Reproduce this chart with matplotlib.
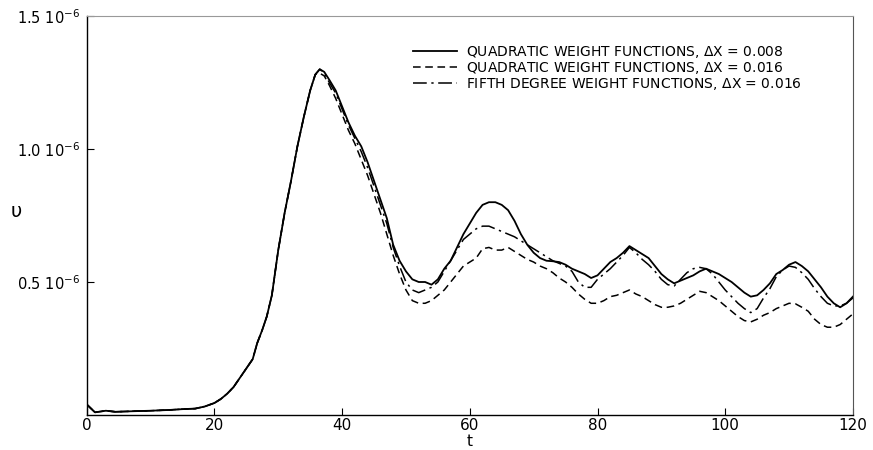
import numpy as np
import matplotlib
matplotlib.use("Agg")
import matplotlib.pyplot as plt

# values in units of 1e-6
t_rise = [0, 1.3, 3, 4.5, 7, 10, 13, 15, 17, 18.5, 20, 21, 22, 23, 24, 25, 26,
          26.7, 27.5, 28.2, 29, 30, 31, 32, 33, 34, 35, 35.8, 36.5, 37.2]
v_rise = [0.04, 0.01, 0.016, 0.012, 0.014, 0.016, 0.019, 0.022, 0.024, 0.032,
          0.045, 0.06, 0.08, 0.105, 0.14, 0.175, 0.21, 0.27, 0.32, 0.37, 0.45,
          0.62, 0.76, 0.88, 1.01, 1.12, 1.22, 1.28, 1.30, 1.29]

t_fall = [38, 39, 40, 41, 42, 43, 44, 45, 46, 47, 48, 49, 50, 51, 52, 53, 54,
          55, 56, 57, 58, 59, 60, 61, 62, 63, 64, 65, 66, 67, 68, 69, 70, 71,
          72, 73, 74, 75, 76, 77, 78, 79, 80, 81, 82, 83, 84, 85, 86, 87, 88,
          89, 90, 91, 92, 93, 94, 95, 96, 97, 98, 99, 100, 101, 102, 103, 104,
          105, 106, 107, 108, 109, 110, 111, 112, 113, 114, 115, 116, 117, 118,
          119, 120]

quad_008 = [1.26, 1.22, 1.16, 1.10, 1.05, 1.01, 0.95, 0.88, 0.81, 0.74, 0.64,
            0.58, 0.54, 0.51, 0.50, 0.50, 0.49, 0.51, 0.55, 0.58, 0.63, 0.68,
            0.72, 0.76, 0.79, 0.80, 0.80, 0.79, 0.77, 0.73, 0.68, 0.64, 0.61,
            0.59, 0.58, 0.578, 0.575, 0.565, 0.55, 0.54, 0.53, 0.515, 0.525,
            0.55, 0.575, 0.59, 0.61, 0.635, 0.62, 0.605, 0.59, 0.56, 0.53,
            0.51, 0.495, 0.505, 0.515, 0.525, 0.54, 0.55, 0.54, 0.53, 0.515,
            0.50, 0.48, 0.46, 0.445, 0.45, 0.47, 0.495, 0.53, 0.545, 0.565,
            0.575, 0.56, 0.54, 0.51, 0.48, 0.445, 0.42, 0.405, 0.42, 0.445]

quad_016 = [1.24, 1.19, 1.13, 1.07, 1.02, 0.96, 0.90, 0.83, 0.76, 0.68, 0.60,
            0.53, 0.47, 0.43, 0.42, 0.42, 0.43, 0.45, 0.47, 0.50, 0.53, 0.56,
            0.575, 0.59, 0.625, 0.63, 0.62, 0.62, 0.63, 0.615, 0.60, 0.585,
            0.575, 0.56, 0.55, 0.535, 0.515, 0.50, 0.48, 0.455, 0.435, 0.42,
            0.42, 0.43, 0.445, 0.45, 0.46, 0.47, 0.455, 0.445, 0.43, 0.415,
            0.405, 0.405, 0.41, 0.42, 0.435, 0.45, 0.465, 0.46, 0.445, 0.43,
            0.41, 0.39, 0.37, 0.355, 0.35, 0.36, 0.375, 0.385, 0.40, 0.41,
            0.42, 0.418, 0.405, 0.39, 0.36, 0.34, 0.33, 0.33, 0.34, 0.36, 0.38]

fifth_016 = [1.25, 1.21, 1.15, 1.09, 1.04, 0.99, 0.93, 0.86, 0.79, 0.72, 0.63,
             0.56, 0.50, 0.47, 0.46, 0.47, 0.48, 0.50, 0.54, 0.58, 0.62, 0.66,
             0.68, 0.70, 0.71, 0.71, 0.70, 0.69, 0.68, 0.67, 0.655, 0.64, 0.625,
             0.61, 0.595, 0.58, 0.57, 0.56, 0.54, 0.50, 0.48, 0.48, 0.51, 0.53,
             0.55, 0.575, 0.60, 0.63, 0.61, 0.585, 0.565, 0.54, 0.51, 0.49,
             0.485, 0.51, 0.535, 0.55, 0.555, 0.55, 0.53, 0.50, 0.47, 0.445,
             0.42, 0.40, 0.385, 0.40, 0.44, 0.475, 0.52, 0.545, 0.56, 0.555,
             0.535, 0.51, 0.475, 0.445, 0.42, 0.41, 0.41, 0.42, 0.44]

labels = ["QUADRATIC WEIGHT FUNCTIONS, $\\Delta$X = 0.008",
          "QUADRATIC WEIGHT FUNCTIONS, $\\Delta$X = 0.016",
          "FIFTH DEGREE WEIGHT FUNCTIONS, $\\Delta$X = 0.016"]
ytick_vals = [0.5, 1.0, 1.5]
ytick_labels = ["0.5 10$^{-6}$", "1.0 10$^{-6}$", "1.5 10$^{-6}$"]
xtick_vals = [0, 20, 40, 60, 80, 100, 120]

plt.rcParams['font.family'] = ['DejaVu Sans']
plt.rcParams['mathtext.fontset'] = 'dejavusans'

fig = plt.figure(figsize=(8.73, 4.5), dpi=100)
ax = fig.add_axes([0.0993, 0.0778, 0.8777, 0.8866])

t = np.array(t_rise + t_fall)
ax.plot(t, np.array(v_rise + quad_008), color='black', lw=1.3,
        linestyle='-', label=labels[0])
ax.plot(t, np.array(v_rise[:-2] + [1.285, 1.275] + quad_016), color='black',
        lw=1.1, linestyle=(0, (5, 3)), label=labels[1])
ax.plot(t, np.array(v_rise[:-1] + [1.285] + fifth_016), color='black',
        lw=1.1, linestyle=(0, (9, 3, 1.5, 3)), label=labels[2])

ax.set_xlim(0, 120)
ax.set_ylim(0, 1.5)
ax.set_xticks(xtick_vals)
ax.set_yticks(ytick_vals)
ax.set_yticklabels(ytick_labels)
ax.tick_params(direction='in', length=5, width=0.8, pad=5)
ax.tick_params(axis='y', labelsize=10.5)
ax.tick_params(axis='x', labelsize=11, pad=2)

for side in ['left', 'bottom']:
    ax.spines[side].set_linewidth(1.0)
ax.spines['top'].set_color('#999999')
ax.spines['top'].set_linewidth(0.8)
ax.spines['right'].set_color('#555555')
ax.spines['right'].set_linewidth(0.8)

ax.text(0.5, -0.0655, 't', transform=ax.transAxes, fontsize=11,
        ha='center', va='center')
ax.text(-0.092, 0.51, 'υ', transform=ax.transAxes, fontsize=14,
        ha='center', va='center')

leg = ax.legend(loc='upper left', bbox_to_anchor=(413 / 873, 1 - 44 / 450),
                bbox_transform=fig.transFigure, frameon=False, fontsize=10,
                handlelength=3.2, handletextpad=0.6, labelspacing=0.0,
                borderpad=0, borderaxespad=0)

fig.savefig('out.png', dpi=100, facecolor='white')
